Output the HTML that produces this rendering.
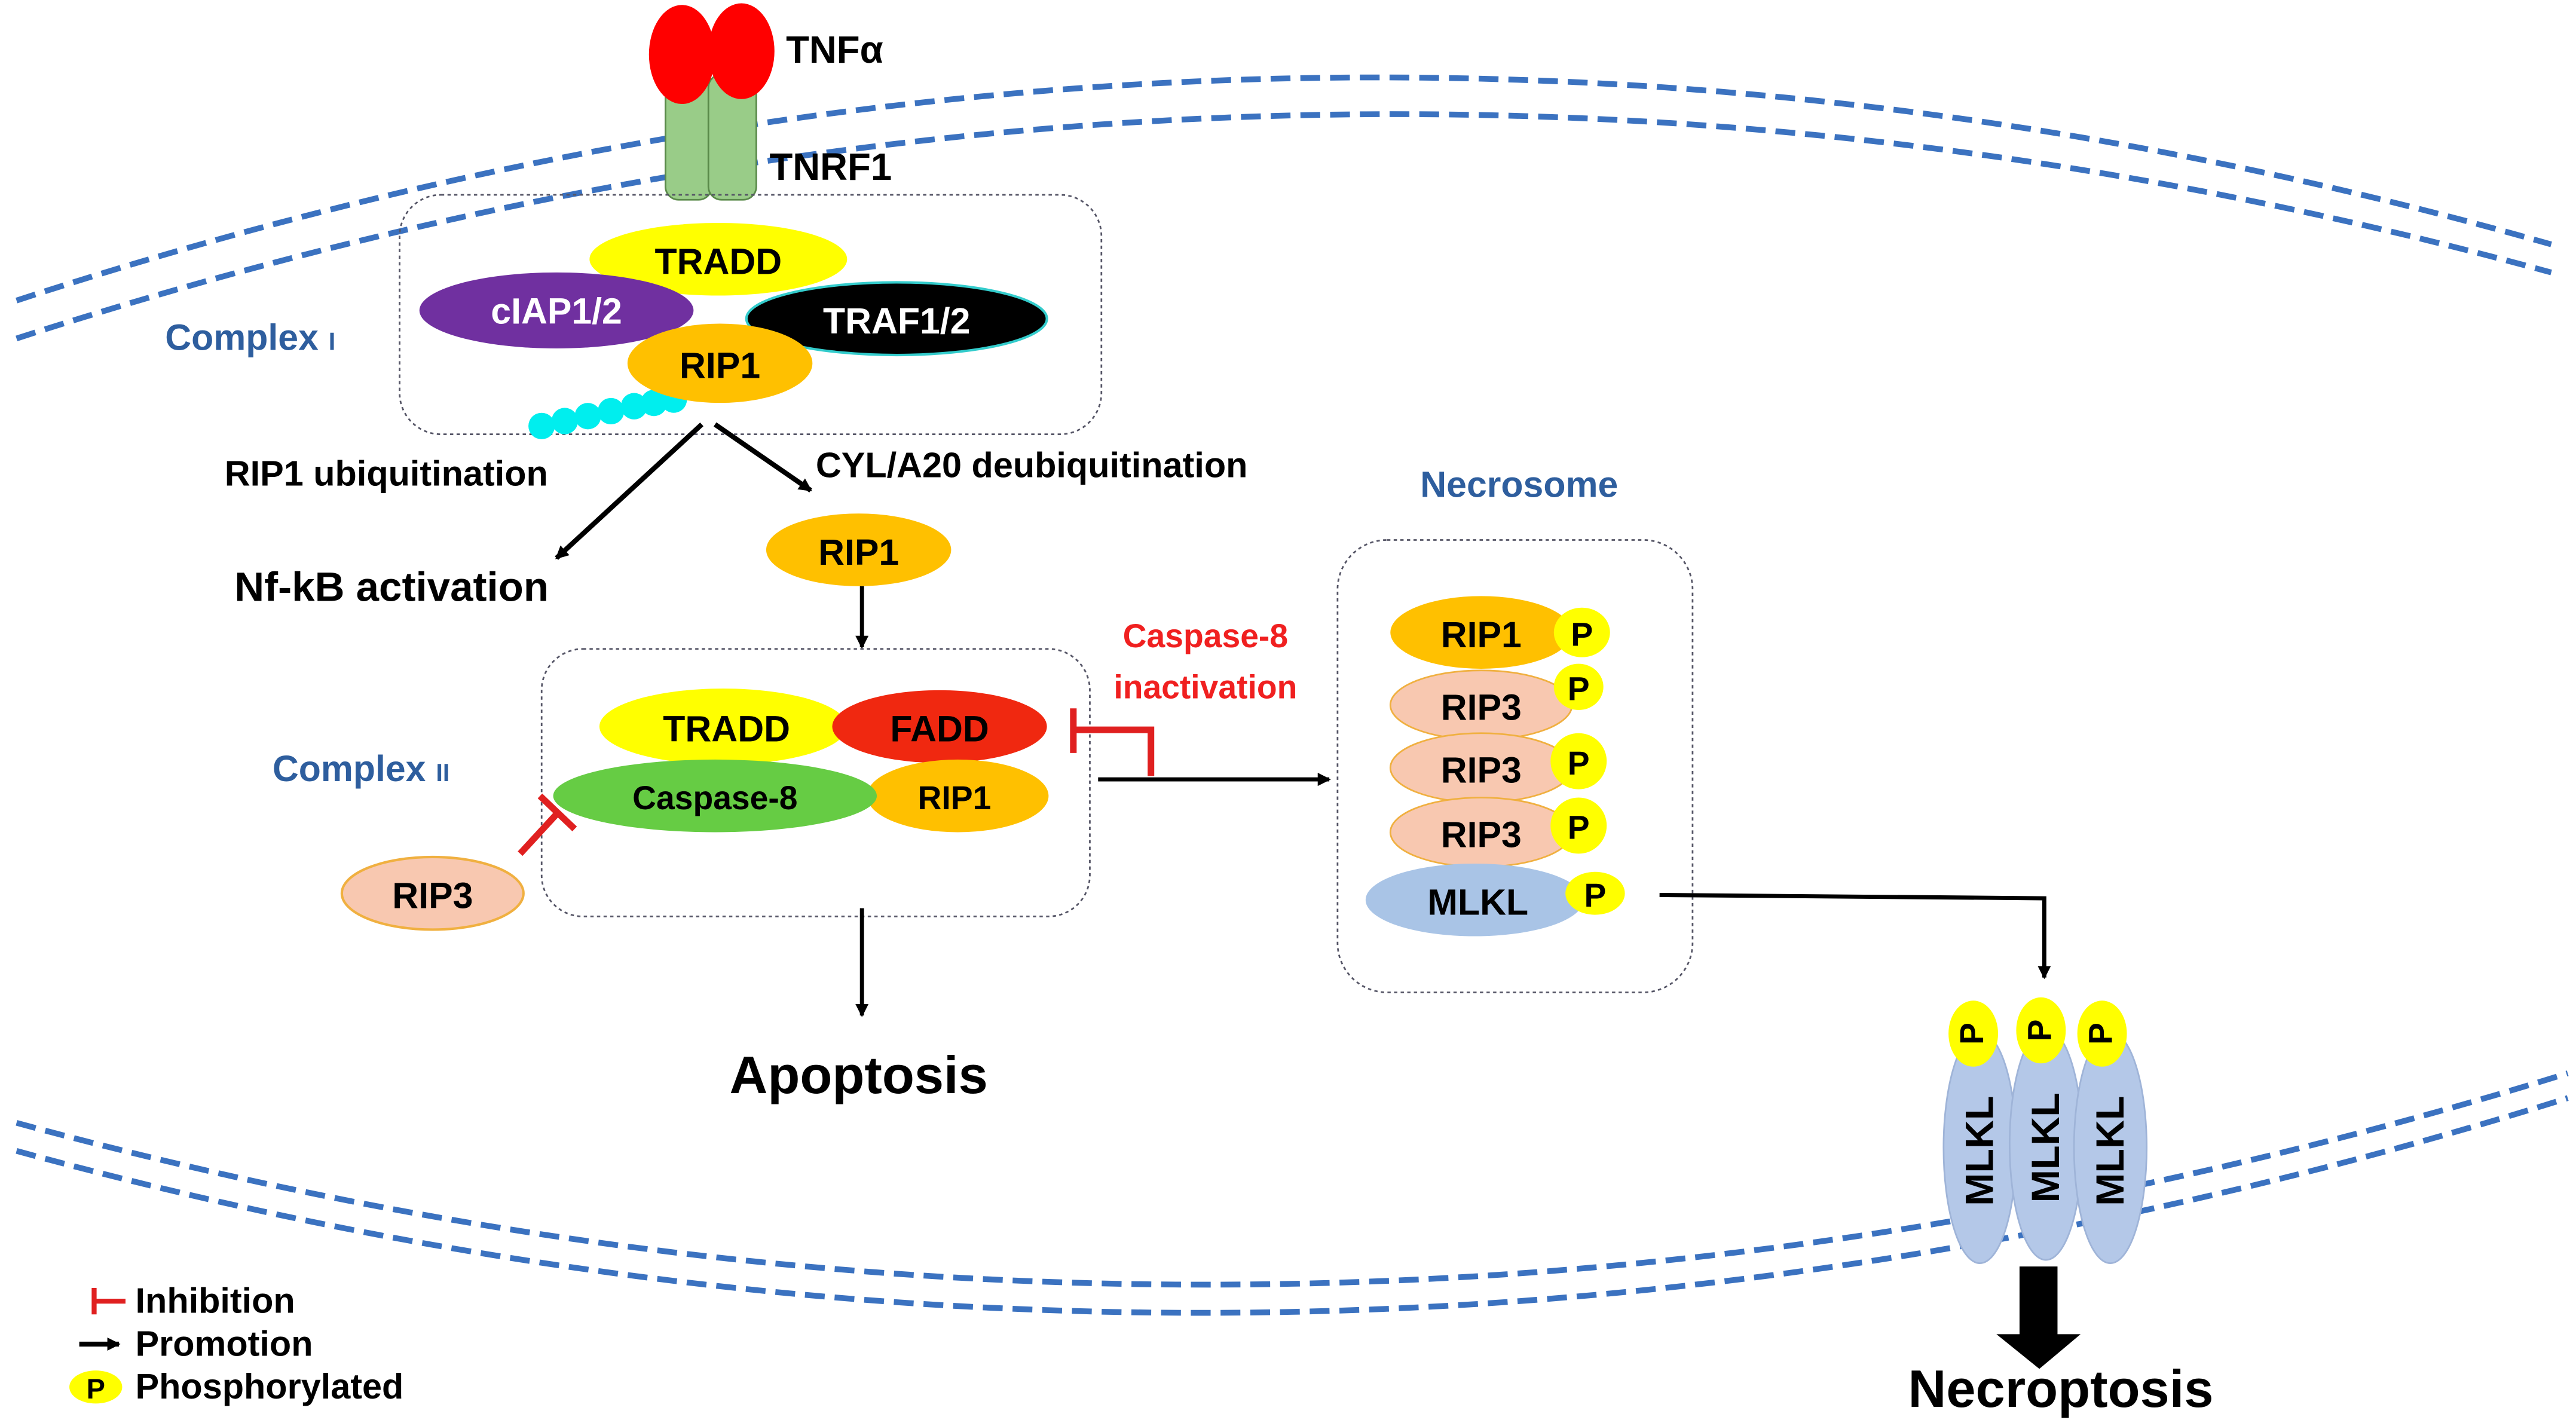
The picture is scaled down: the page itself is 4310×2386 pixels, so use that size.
<!DOCTYPE html>
<html><head><meta charset="utf-8"><style>
html,body{margin:0;padding:0;background:#fff}
svg{display:block}
text{font-family:"Liberation Sans",sans-serif;font-weight:bold}
</style></head><body>
<svg width="4310" height="2386" viewBox="0 0 1560 863.6" preserveAspectRatio="none" xmlns="http://www.w3.org/2000/svg">
<defs>
<marker id="a" markerWidth="8" markerHeight="8" refX="7" refY="4" orient="auto" markerUnits="userSpaceOnUse"><path d="M0,0 L8,4 L0,8 z" fill="#000"/></marker>
</defs>
<!-- membranes -->
<g fill="none" stroke="#3b72c0" stroke-width="3.5" stroke-dasharray="12,6">
<path d="M10,182 Q780,-70 1545,148"/>
<path d="M10,205 Q780,-45 1545,165"/>
<path d="M10,680 Q780,890 1555,650"/>
<path d="M10,697 Q780,908 1555,665"/>
</g>
<!-- TNFa / TNRF1 -->
<rect x="403" y="45" width="28" height="76" rx="8" fill="#99cc88" stroke="#5a8a4a"/>
<rect x="429" y="45" width="29" height="76" rx="8" fill="#99cc88" stroke="#5a8a4a"/>
<ellipse cx="413" cy="33" rx="20" ry="30" fill="#f00"/>
<ellipse cx="449" cy="31" rx="20" ry="29" fill="#f00"/>
<text x="476" y="38" font-size="23">TNFα</text>
<text x="466" y="109" font-size="23">TNRF1</text>
<!-- Complex I -->
<rect x="242" y="118" width="425" height="145" rx="25" fill="none" stroke="#556" stroke-width="1" stroke-dasharray="2,2"/>
<text x="100" y="212" font-size="22" fill="#2e5e9e">Complex <tspan font-size="15">I</tspan></text>
<ellipse cx="435" cy="157" rx="78" ry="22" fill="#ffff00"/>
<text x="435" y="166" font-size="22" text-anchor="middle">TRADD</text>
<ellipse cx="337" cy="188" rx="83" ry="23" fill="#7030a0"/>
<text x="337" y="196" font-size="22" text-anchor="middle" fill="#fff" font-weight="normal">cIAP1/2</text>
<ellipse cx="543" cy="193" rx="91" ry="22" fill="#000" stroke="#3cc" stroke-width="1.5"/>
<text x="543" y="202" font-size="22" text-anchor="middle" fill="#fff" font-weight="normal">TRAF1/2</text>
<g fill="#00eeee"><circle cx="328" cy="258" r="8"/><circle cx="342" cy="255" r="8"/><circle cx="356" cy="252" r="8"/><circle cx="370" cy="249" r="8"/><circle cx="384" cy="246" r="8"/><circle cx="396" cy="244" r="8"/><circle cx="408" cy="242" r="8"/></g>
<ellipse cx="436" cy="220" rx="56" ry="24" fill="#ffc000"/>
<text x="436" y="229" font-size="22" text-anchor="middle">RIP1</text>
<!-- branch arrows -->
<g stroke="#000" stroke-width="3" fill="none">
<line x1="425" y1="257" x2="337" y2="338" marker-end="url(#a)"/>
<line x1="433" y1="257" x2="491" y2="297" marker-end="url(#a)"/>
</g>
<text x="136" y="294" font-size="21.5">RIP1 ubiquitination</text>
<text x="494" y="289" font-size="21.5">CYL/A20 deubiquitination</text>
<text x="142" y="364" font-size="25">Nf-kB activation</text>
<ellipse cx="520" cy="333" rx="56" ry="22" fill="#ffc000"/>
<text x="520" y="342" font-size="22" text-anchor="middle">RIP1</text>
<line x1="522" y1="355" x2="522" y2="392" stroke="#000" stroke-width="2.5" marker-end="url(#a)"/>
<!-- Complex II -->
<rect x="328" y="393" width="332" height="162" rx="25" fill="none" stroke="#556" stroke-width="1" stroke-dasharray="2,2"/>
<text x="165" y="473" font-size="22" fill="#2e5e9e">Complex <tspan font-size="15">II</tspan></text>
<ellipse cx="438" cy="440" rx="75" ry="23" fill="#ffff00"/>
<text x="440" y="449" font-size="22" text-anchor="middle">TRADD</text>
<ellipse cx="569" cy="440" rx="65" ry="22" fill="#f02810"/>
<text x="569" y="449" font-size="22" text-anchor="middle">FADD</text>
<ellipse cx="580" cy="482" rx="55" ry="22" fill="#ffc000"/>
<text x="578" y="490" font-size="20" text-anchor="middle">RIP1</text>
<ellipse cx="433" cy="482" rx="98" ry="22" fill="#66cc44"/>
<text x="433" y="490" font-size="20" text-anchor="middle">Caspase-8</text>
<ellipse cx="262" cy="541" rx="55" ry="22" fill="#f8c8b0" stroke="#f0b040" stroke-width="1.5"/>
<text x="262" y="550" font-size="22" text-anchor="middle">RIP3</text>
<g stroke="#e02020" stroke-width="4" fill="none">
<line x1="315" y1="517" x2="338" y2="492"/>
<line x1="327" y1="482" x2="348" y2="502"/>
<polyline points="697,470 697,442 650,442"/>
<line x1="650" y1="429" x2="650" y2="456"/>
</g>
<text x="730" y="392" font-size="20" fill="#f02020" text-anchor="middle">Caspase-8</text>
<text x="730" y="423" font-size="20" fill="#f02020" text-anchor="middle">inactivation</text>
<line x1="665" y1="472" x2="805" y2="472" stroke="#000" stroke-width="2.5" marker-end="url(#a)"/>
<line x1="522" y1="550" x2="522" y2="615" stroke="#000" stroke-width="2.5" marker-end="url(#a)"/>
<text x="520" y="662" font-size="32" text-anchor="middle">Apoptosis</text>
<!-- Necrosome -->
<text x="920" y="301" font-size="22" fill="#2e5e9e" text-anchor="middle">Necrosome</text>
<rect x="810" y="327" width="215" height="274" rx="30" fill="none" stroke="#556" stroke-width="1" stroke-dasharray="2,2"/>
<ellipse cx="897" cy="383" rx="55" ry="22" fill="#ffc000"/>
<text x="897" y="392" font-size="22" text-anchor="middle">RIP1</text>
<ellipse cx="958" cy="383" rx="17" ry="15" fill="#ffff00"/>
<text x="958" y="391" font-size="20" text-anchor="middle">P</text>
<ellipse cx="897" cy="427" rx="55" ry="21" fill="#f8c8b0" stroke="#f0b040"/>
<text x="897" y="436" font-size="22" text-anchor="middle">RIP3</text>
<ellipse cx="956" cy="416" rx="15" ry="14" fill="#ffff00"/>
<text x="956" y="424" font-size="20" text-anchor="middle">P</text>
<ellipse cx="897" cy="465" rx="55" ry="21" fill="#f8c8b0" stroke="#f0b040"/>
<text x="897" y="474" font-size="22" text-anchor="middle">RIP3</text>
<ellipse cx="956" cy="461" rx="17" ry="17" fill="#ffff00"/>
<text x="956" y="469" font-size="20" text-anchor="middle">P</text>
<ellipse cx="897" cy="504" rx="55" ry="21" fill="#f8c8b0" stroke="#f0b040"/>
<text x="897" y="513" font-size="22" text-anchor="middle">RIP3</text>
<ellipse cx="956" cy="500" rx="17" ry="17" fill="#ffff00"/>
<text x="956" y="508" font-size="20" text-anchor="middle">P</text>
<ellipse cx="893" cy="545" rx="66" ry="22" fill="#a9c4e6"/>
<text x="895" y="554" font-size="22" text-anchor="middle">MLKL</text>
<ellipse cx="966" cy="541" rx="18" ry="13" fill="#ffff00"/>
<text x="966" y="549" font-size="20" text-anchor="middle">P</text>
<polyline points="1005,542 1238,544 1238,592" fill="none" stroke="#000" stroke-width="2.5" marker-end="url(#a)"/>
<!-- MLKL trimer -->
<g fill="#b4c8e8" stroke="#9fb4d8">
<ellipse cx="1199" cy="695" rx="22" ry="70"/>
<ellipse cx="1239" cy="693" rx="22" ry="70"/>
<ellipse cx="1278" cy="695" rx="22" ry="70"/>
</g>
<g fill="#ffff00">
<ellipse cx="1195" cy="626" rx="15" ry="20"/>
<ellipse cx="1236" cy="624" rx="15" ry="20"/>
<ellipse cx="1273" cy="626" rx="15" ry="20"/>
</g>
<g font-size="20" text-anchor="middle">
<text transform="translate(1201,626) rotate(-90)">P</text>
<text transform="translate(1242,624) rotate(-90)">P</text>
<text transform="translate(1279,626) rotate(-90)">P</text>
<text transform="translate(1207,697) rotate(-90)" font-size="24">MLKL</text>
<text transform="translate(1247,695) rotate(-90)" font-size="24">MLKL</text>
<text transform="translate(1286,697) rotate(-90)" font-size="24">MLKL</text>
</g>
<rect x="1223" y="767" width="23" height="42" fill="#000"/>
<polygon points="1209,808 1260,808 1235,829" fill="#000"/>
<text x="1248" y="852" font-size="32" text-anchor="middle">Necroptosis</text>
<!-- legend -->
<g stroke="#e02020" stroke-width="3"><line x1="57" y1="788" x2="76" y2="788"/><line x1="57" y1="780" x2="57" y2="796"/></g>
<text x="82" y="795" font-size="21.5">Inhibition</text>
<line x1="48" y1="814" x2="72" y2="814" stroke="#000" stroke-width="3" marker-end="url(#a)"/>
<text x="82" y="821" font-size="21.5">Promotion</text>
<ellipse cx="58" cy="840" rx="16" ry="10" fill="#ffff00"/>
<text x="58" y="847" font-size="17" text-anchor="middle">P</text>
<text x="82" y="847" font-size="21.5">Phosphorylated</text>
</svg>
</body></html>
